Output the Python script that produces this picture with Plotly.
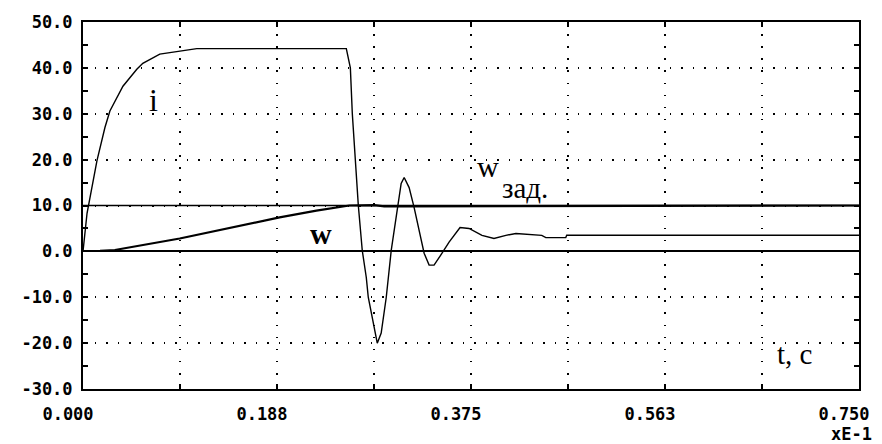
import plotly.graph_objects as go

# Time axis in units of 1E-1 s
t_i = [0.0, 0.0039, 0.0135, 0.0212, 0.026, 0.0386, 0.052, 0.0578, 0.0742, 0.0935,
       0.110, 0.2545, 0.2584, 0.2603, 0.2632, 0.2661, 0.2699, 0.2738, 0.2757,
       0.2796, 0.2844, 0.2882, 0.2931, 0.2979, 0.3027, 0.3075, 0.3104, 0.3152,
       0.3200, 0.3249, 0.3297, 0.3345, 0.3393, 0.3470, 0.3538, 0.3644, 0.3731,
       0.3856, 0.3972, 0.4087, 0.4184, 0.4434, 0.4473, 0.4666, 0.4675, 0.75]
# Armature current i
i_vals = [0.0, 8.3, 19.8, 27.0, 30.6, 36.0, 39.7, 41.0, 43.0, 43.7,
          44.2, 44.2, 40.0, 30.0, 20.2, 10.0, 0.2, -5.7, -10.0,
          -14.3, -20.0, -17.8, -10.0, 0.2, 7.4, 14.8, 16.1, 13.9,
          9.6, 4.6, -0.4, -3.0, -3.0, -0.4, 2.0, 5.2, 5.0,
          3.5, 2.8, 3.5, 3.9, 3.5, 3.0, 3.0, 3.5, 3.5]

# Speed w
t_w = [0.0164, 0.0308, 0.0935, 0.161, 0.190, 0.2256, 0.2574, 0.2815, 0.2911,
       0.3085, 0.75]
w_vals = [0.1, 0.3, 2.8, 6.1, 7.4, 8.9, 10.0, 10.1, 9.8, 9.8, 10.0]

# Speed reference w_зад
t_ref = [0.0, 0.75]
w_ref = [10.0, 10.0]

x_ticks = [0.0, 0.09375, 0.1875, 0.28125, 0.375, 0.46875, 0.5625, 0.65625, 0.75]
x_labels = ["0.000", "", "0.188", "", "0.375", "", "0.563", "", "0.750"]
y_ticks = [-30, -20, -10, 0, 10, 20, 30, 40, 50]
y_labels = ["-30.0", "-20.0", "-10.0", "0.0", "10.0", "20.0", "30.0", "40.0", "50.0"]

mono = dict(family="DejaVu Sans Mono", size=17, color="black", weight="bold")
serif = "Liberation Serif"

fig = go.Figure()
fig.add_trace(go.Scatter(x=t_ref, y=w_ref, mode="lines",
                         line=dict(color="black", width=1.5), hoverinfo="skip"))
fig.add_trace(go.Scatter(x=t_w, y=w_vals, mode="lines",
                         line=dict(color="black", width=2.2)))
fig.add_trace(go.Scatter(x=t_i, y=i_vals, mode="lines",
                         line=dict(color="black", width=1.4)))

fig.update_layout(
    width=882, height=444,
    margin=dict(l=83, r=21, t=21, b=55),
    paper_bgcolor="white", plot_bgcolor="white",
    showlegend=False,
)

fig.update_xaxes(
    range=[0, 0.75], tickvals=x_ticks, ticktext=x_labels,
    ticks="inside", ticklen=5, tickwidth=1.5, tickcolor="black",
    showline=True, linecolor="black", linewidth=2, mirror="allticks",
    showgrid=True, gridcolor="black", gridwidth=1.6, griddash="1.6px,10.5px",
    zeroline=False, tickfont=mono, ticklabelshift=-15, ticklabelstandoff=9,
)
fig.update_yaxes(
    range=[-30, 50], tickvals=y_ticks, ticktext=y_labels,
    ticks="inside", ticklen=5, tickwidth=1.5, tickcolor="black",
    minor=dict(ticks="inside", ticklen=5, tickwidth=1.5, tickcolor="black",
               dtick=5, showgrid=False),
    showline=True, linecolor="black", linewidth=2, mirror="allticks",
    showgrid=True, gridcolor="black", gridwidth=1.6, griddash="1.6px,9.9px",
    zeroline=True, zerolinecolor="black", zerolinewidth=1.5,
    tickfont=mono, ticklabelstandoff=5,
)

notes = [
    dict(x=0.0680, y=33.0, text="i", size=32),
    dict(x=0.2304, y=3.9, text="<b>w</b>", size=30),
    dict(x=0.3910, y=18.5, text="w", size=30),
    dict(x=0.4270, y=13.8, text="зад.", size=29),
    dict(x=0.6880, y=-22.3, text="t, c", size=29),
]
for n in notes:
    fig.add_annotation(x=n["x"], y=n["y"], xref="x", yref="y", text=n["text"],
                       showarrow=False, xanchor="center", yanchor="middle",
                       font=dict(family=serif, size=n["size"], color="black"))

fig.add_annotation(x=1.0, y=-0.0, xref="paper", yref="paper", text="xE-1",
                   showarrow=False, xanchor="right", yanchor="top", yshift=-33,
                   xshift=15, font=mono)

fig.write_html("out.html")
